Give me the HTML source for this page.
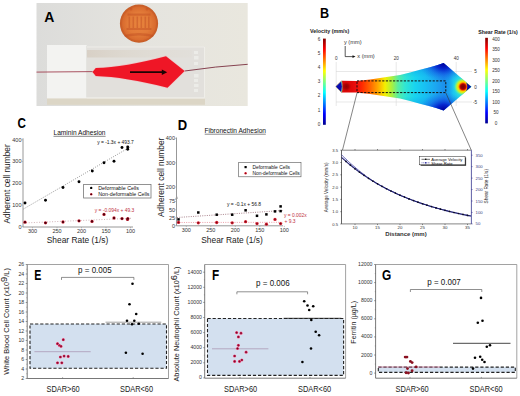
<!DOCTYPE html>
<html><head><meta charset="utf-8">
<style>
html,body{margin:0;padding:0;background:#fff;}
body{width:520px;height:396px;overflow:hidden;}
svg{display:block;font-family:"Liberation Sans",sans-serif;}
.b{font-weight:bold;}
</style></head>
<body>
<svg width="520" height="396" viewBox="0 0 520 396">

<defs>
<linearGradient id="phbg" x1="0" x2="1" y1="0" y2="0">
<stop offset="0" stop-color="#dcdcda"/><stop offset="0.5" stop-color="#e5e4df"/><stop offset="1" stop-color="#e9e7de"/>
</linearGradient>
<linearGradient id="band" x1="0" x2="1" y1="0" y2="0"><stop offset="0" stop-color="#d8d0c6" stop-opacity="1"/><stop offset="0.4" stop-color="#dcd6cc" stop-opacity="0.7"/><stop offset="1" stop-color="#e0dcd4" stop-opacity="0.3"/></linearGradient>
<radialGradient id="coin" cx="0.5" cy="0.5" r="0.5">
<stop offset="0" stop-color="#e8843e"/><stop offset="0.6" stop-color="#e27a38"/><stop offset="0.88" stop-color="#d86a2e"/><stop offset="1" stop-color="#c25a26"/>
</radialGradient>
<linearGradient id="vcb" x1="0" x2="0" y1="1" y2="0">
<stop offset="0" stop-color="#00008f"/><stop offset="0.125" stop-color="#0000ff"/><stop offset="0.375" stop-color="#00ffff"/><stop offset="0.625" stop-color="#ffff00"/><stop offset="0.875" stop-color="#ff0000"/><stop offset="1" stop-color="#800000"/>
</linearGradient>
<linearGradient id="flow" gradientUnits="userSpaceOnUse" x1="335" x2="472" y1="0" y2="0">
<stop offset="0.036" stop-color="#d80808"/><stop offset="0.124" stop-color="#e00808"/><stop offset="0.161" stop-color="#f01010"/><stop offset="0.197" stop-color="#ff2a00"/><stop offset="0.255" stop-color="#ff6400"/><stop offset="0.314" stop-color="#ffa800"/><stop offset="0.365" stop-color="#f4f000"/><stop offset="0.416" stop-color="#a8f040"/><stop offset="0.460" stop-color="#58eea0"/><stop offset="0.511" stop-color="#30e6d4"/><stop offset="0.584" stop-color="#18d4f0"/><stop offset="0.657" stop-color="#18c0f2"/><stop offset="0.730" stop-color="#1ca8f0"/><stop offset="0.796" stop-color="#1c90ec"/><stop offset="0.832" stop-color="#18a0f0"/><stop offset="0.862" stop-color="#1cc4f0"/><stop offset="0.9" stop-color="#26d6e8"/><stop offset="1" stop-color="#28d8e8"/>
</linearGradient>
<linearGradient id="flowv" gradientUnits="userSpaceOnUse" x1="0" x2="0" y1="63" y2="110.6">
<stop offset="0" stop-color="#0010c0" stop-opacity="0.5"/><stop offset="0.15" stop-color="#0030d8" stop-opacity="0.15"/><stop offset="0.3" stop-color="#0040e0" stop-opacity="0"/><stop offset="0.7" stop-color="#0040e0" stop-opacity="0"/><stop offset="0.85" stop-color="#0030d8" stop-opacity="0.15"/><stop offset="1" stop-color="#0010c0" stop-opacity="0.5"/>
</linearGradient>
<radialGradient id="vtx" cx="0.5" cy="0.5" r="0.5">
<stop offset="0" stop-color="#000098" stop-opacity="1"/><stop offset="0.3" stop-color="#0010c8" stop-opacity="0.8"/><stop offset="0.65" stop-color="#1040e0" stop-opacity="0.35"/><stop offset="1" stop-color="#1060e8" stop-opacity="0"/>
</radialGradient>
<radialGradient id="rtip" gradientUnits="userSpaceOnUse" cx="463" cy="86.7" r="11">
<stop offset="0" stop-color="#780000"/><stop offset="0.2" stop-color="#980000"/><stop offset="0.28" stop-color="#d01000"/><stop offset="0.35" stop-color="#ff7000"/><stop offset="0.44" stop-color="#f8d800"/><stop offset="0.55" stop-color="#d0f020"/><stop offset="0.68" stop-color="#70f090" stop-opacity="0.9"/><stop offset="0.82" stop-color="#30e0d0" stop-opacity="0.5"/><stop offset="1" stop-color="#20d0f0" stop-opacity="0"/>
</radialGradient>
<radialGradient id="lcore" cx="0.5" cy="0.5" r="0.5"><stop offset="0" stop-color="#900000"/><stop offset="0.5" stop-color="#a00000" stop-opacity="0.8"/><stop offset="1" stop-color="#c00000" stop-opacity="0"/></radialGradient>
<radialGradient id="ltip" gradientUnits="userSpaceOnUse" cx="336.5" cy="86.6" r="7">
<stop offset="0" stop-color="#0000a0"/><stop offset="0.45" stop-color="#0010d0"/><stop offset="0.6" stop-color="#20c0f0"/><stop offset="0.72" stop-color="#e0f040"/><stop offset="0.85" stop-color="#ff6000" stop-opacity="0.6"/><stop offset="1" stop-color="#d00000" stop-opacity="0"/>
</radialGradient>
<filter id="bl" x="-10%" y="-10%" width="120%" height="120%"><feGaussianBlur stdDeviation="0.7"/></filter>
<clipPath id="shpclip"><path d="M335.6,86.6 L341.5,80.8 L357,80.9 L370,79.5 L385,77.2 L400,74.9 L410,72.5 L420,69.8 L430,67.3 L437,65.2 L443.6,63.1 L471.5,86.8 L443.6,110.4 L437,108.3 L430,106.2 L420,103.7 L410,101.0 L400,98.6 L385,96.3 L370,94.0 L357,92.6 L341.5,92.6 Z"/></clipPath>
<radialGradient id="rdot" cx="0.5" cy="0.5" r="0.5">
<stop offset="0" stop-color="#30000a"/><stop offset="0.5" stop-color="#600010"/><stop offset="1" stop-color="#d82838"/>
</radialGradient>
<radialGradient id="rdotD" cx="0.5" cy="0.5" r="0.5">
<stop offset="0" stop-color="#600010"/><stop offset="0.35" stop-color="#a01020"/><stop offset="1" stop-color="#e82838"/>
</radialGradient>
<radialGradient id="rdotE" cx="0.5" cy="0.5" r="0.5">
<stop offset="0" stop-color="#681028"/><stop offset="0.45" stop-color="#a01840"/><stop offset="0.8" stop-color="#e03868"/><stop offset="1" stop-color="#f06890"/>
</radialGradient>
</defs>

<rect x="36.5" y="3" width="211.2" height="103" fill="url(#phbg)"/>
<rect x="47" y="97.8" width="158" height="7" fill="#dcd6c6"/>
<rect x="47" y="97.8" width="158" height="1.2" fill="#e6e2d8"/>
<rect x="87" y="46.5" width="118" height="51.5" fill="#e2e0dc"/>
<path d="M87,47 H204.5 V97.8 H87" stroke="#f2f1ec" stroke-width="0.8" fill="none"/>
<rect x="87" y="50" width="105" height="7.5" fill="url(#band)"/>
<g fill="#f4f4f0" opacity="0.6"><rect x="194" y="51" width="4" height="3"/><rect x="194" y="56" width="4.5" height="3.5"/><rect x="194" y="62" width="4" height="3"/><rect x="194" y="74" width="4.5" height="3.5"/><rect x="194" y="79" width="4" height="3"/><rect x="194" y="84" width="4.5" height="3"/><rect x="194" y="89" width="4" height="3"/></g>
<rect x="47" y="45" width="40" height="53" fill="#f3f3f1"/>
<path d="M86.5,45.5 V97.5" stroke="#e0e0dc" stroke-width="0.8"/>
<circle cx="139" cy="23.6" r="19.1" fill="url(#coin)"/>
<circle cx="139.1" cy="23.6" r="17.6" fill="none" stroke="#c85c28" stroke-width="1.2" opacity="0.55"/>
<g fill="#c04e20" opacity="0.45" filter="url(#bl)"><rect x="127.5" y="13.5" width="23" height="2.2"/><rect x="128.5" y="16.5" width="1.6" height="11.5"/><rect x="132.5" y="16.5" width="1.6" height="11.5"/><rect x="136.5" y="16.5" width="1.6" height="11.5"/><rect x="140.5" y="16.5" width="1.6" height="11.5"/><rect x="144.5" y="16.5" width="1.6" height="11.5"/><rect x="148" y="16.5" width="1.6" height="11.5"/><rect x="126.5" y="28" width="25" height="2"/><path d="M124,35 Q139,31 154,35 L153,37 Q139,34 125,37 Z"/><circle cx="131" cy="9" r="1.5"/><circle cx="147" cy="9" r="1.5"/></g>
<path d="M36.5,72.1 L93,71.6" stroke="#a04050" stroke-width="0.9" fill="none"/>
<path d="M184.6,71 Q215,66.5 247.7,64.3" stroke="#7a3040" stroke-width="0.9" fill="none"/>
<path d="M92.5,71.9 L95.8,68.1 Q125,67 166,56.2 L184.6,71 L167.5,87.8 Q125,77 95.8,76.1 Z" fill="#f0a0a4" stroke="#f4b8bc" stroke-width="1.2" opacity="0.6"/>
<path d="M92.5,71.9 L95.8,68.1 Q125,67 166,56.2 L184.6,71 L167.5,87.8 Q125,77 95.8,76.1 Z" fill="#ef1626"/>
<path d="M130,72.1 L163,72.2" stroke="#1c0404" stroke-width="1.7"/>
<path d="M167.2,72.2 L161.8,69.4 L161.8,75 Z" fill="#1c0404"/>
<text x="0" y="0" font-size="14" font-weight="bold" fill="#000" transform="translate(44.20,22.40) scale(1.0,1)">A</text>
<text x="0" y="0" font-size="14" font-weight="bold" fill="#000" transform="translate(320.00,17.90) scale(0.9,1)">B</text>
<text x="310.00" y="33.00" font-size="5.35" fill="#222" text-anchor="start" class="b">Velocity (mm/s)</text>
<text x="478.20" y="33.80" font-size="5.25" fill="#222" text-anchor="start" class="b">Shear Rate (1/s)</text>
<rect x="323" y="38.6" width="2.8" height="86.2" fill="url(#vcb)"/>
<rect x="485.2" y="37.8" width="2.7" height="85.6" fill="url(#vcb)"/>
<text x="319.00" y="40.60" font-size="4.6" fill="#333" text-anchor="middle" >6</text>
<text x="319.00" y="54.78" font-size="4.6" fill="#333" text-anchor="middle" >5</text>
<text x="319.00" y="68.96" font-size="4.6" fill="#333" text-anchor="middle" >4</text>
<text x="319.00" y="83.14" font-size="4.6" fill="#333" text-anchor="middle" >3</text>
<text x="319.00" y="97.32" font-size="4.6" fill="#333" text-anchor="middle" >2</text>
<text x="319.00" y="111.50" font-size="4.6" fill="#333" text-anchor="middle" >1</text>
<text x="319.00" y="125.68" font-size="4.6" fill="#333" text-anchor="middle" >0</text>
<text x="496.10" y="40.50" font-size="4.6" fill="#333" text-anchor="middle" >400</text>
<text x="496.10" y="51.06" font-size="4.6" fill="#333" text-anchor="middle" >350</text>
<text x="496.10" y="61.62" font-size="4.6" fill="#333" text-anchor="middle" >300</text>
<text x="496.10" y="72.18" font-size="4.6" fill="#333" text-anchor="middle" >250</text>
<text x="496.10" y="82.74" font-size="4.6" fill="#333" text-anchor="middle" >200</text>
<text x="496.10" y="93.30" font-size="4.6" fill="#333" text-anchor="middle" >150</text>
<text x="496.10" y="103.86" font-size="4.6" fill="#333" text-anchor="middle" >100</text>
<text x="496.10" y="114.42" font-size="4.6" fill="#333" text-anchor="middle" >50</text>
<text x="496.10" y="124.98" font-size="4.6" fill="#333" text-anchor="middle" >0</text>
<path d="M345.2,46 L345.2,56.6 L353,56.6" stroke="#111" stroke-width="0.7" fill="none"/>
<path d="M355.5,56.6 L352.5,55.3 L352.5,57.9 Z" fill="#111"/>
<text x="343.90" y="44.20" font-size="5.7" fill="#333" text-anchor="start" >y (mm)</text>
<text x="357.30" y="58.30" font-size="5.6" fill="#333" text-anchor="start" >x (mm)</text>
<g stroke="#d8d8d8" stroke-width="0.6"><path d="M336,71.5 H472"/><path d="M336,102 H472"/><path d="M336.2,62 V106"/><path d="M396.2,62 V106"/><path d="M456.2,62 V106"/></g>
<text x="336.20" y="60.00" font-size="4.6" fill="#333" text-anchor="middle" >0</text>
<text x="396.20" y="60.00" font-size="4.6" fill="#333" text-anchor="middle" >20</text>
<text x="456.20" y="60.00" font-size="4.6" fill="#333" text-anchor="middle" >40</text>
<text x="475.50" y="73.00" font-size="4.6" fill="#333" text-anchor="middle" >5</text>
<text x="475.50" y="88.50" font-size="4.6" fill="#333" text-anchor="middle" >0</text>
<text x="475.00" y="103.50" font-size="4.6" fill="#333" text-anchor="middle" >-5</text>
<g clip-path="url(#shpclip)">
<rect x="335" y="60" width="140" height="55" fill="url(#flow)"/>
<rect x="335" y="60" width="140" height="55" fill="url(#flowv)"/>
<ellipse cx="443.6" cy="63.5" rx="24" ry="18" fill="url(#vtx)"/>
<ellipse cx="443.6" cy="110" rx="24" ry="18" fill="url(#vtx)"/>
<circle cx="463" cy="86.7" r="11" fill="url(#rtip)"/>
<path d="M466,82.2 L471.5,86.8 L466,91.2 Q468.4,86.8 466,82.2 Z" fill="#0808a8"/>
<path d="M335.6,86.6 L341.5,80.8 Q343.2,86.6 341.5,92.6 Z" fill="#0808b0" stroke="#80e0a0" stroke-width="0.9"/>
<circle cx="346.3" cy="86.6" r="5" fill="url(#lcore)"/>
</g>
<rect x="357" y="80.9" width="88.8" height="11.7" fill="none" stroke="#111" stroke-width="1" stroke-dasharray="2.2,1.4"/>
<path d="M357.00,93.00 L342.50,150.00" stroke="#333" stroke-width="0.6" fill="none" />
<path d="M445.80,92.80 L471.20,150.00" stroke="#333" stroke-width="0.6" fill="none" />
<path d="M341.5,150.2 H471.4" stroke="#333" stroke-width="0.6"/>
<path d="M341.5,223.9 H471.4" stroke="#333" stroke-width="0.6"/>
<path d="M341.5,150.2 V223.9" stroke="#222" stroke-width="0.7"/>
<path d="M471.4,150.2 V223.9" stroke="#1a1a80" stroke-width="0.7"/>
<path d="M341.50,150.20 L340.30,150.20" stroke="#222" stroke-width="0.5" fill="none" />
<text x="338.20" y="151.70" font-size="4.2" fill="#333" text-anchor="end" >3.5</text>
<path d="M341.50,162.50 L340.30,162.50" stroke="#222" stroke-width="0.5" fill="none" />
<text x="338.20" y="164.00" font-size="4.2" fill="#333" text-anchor="end" >3.0</text>
<path d="M341.50,174.80 L340.30,174.80" stroke="#222" stroke-width="0.5" fill="none" />
<text x="338.20" y="176.30" font-size="4.2" fill="#333" text-anchor="end" >2.5</text>
<path d="M341.50,187.10 L340.30,187.10" stroke="#222" stroke-width="0.5" fill="none" />
<text x="338.20" y="188.60" font-size="4.2" fill="#333" text-anchor="end" >2.0</text>
<path d="M341.50,199.40 L340.30,199.40" stroke="#222" stroke-width="0.5" fill="none" />
<text x="338.20" y="200.90" font-size="4.2" fill="#333" text-anchor="end" >1.5</text>
<path d="M341.50,211.70 L340.30,211.70" stroke="#222" stroke-width="0.5" fill="none" />
<text x="338.20" y="213.20" font-size="4.2" fill="#333" text-anchor="end" >1.0</text>
<path d="M341.50,224.00 L340.30,224.00" stroke="#222" stroke-width="0.5" fill="none" />
<text x="338.20" y="225.50" font-size="4.2" fill="#333" text-anchor="end" >0.5</text>
<path d="M355.00,150.20 L355.00,149.00" stroke="#222" stroke-width="0.5" fill="none" />
<path d="M355.00,223.90 L355.00,225.10" stroke="#222" stroke-width="0.5" fill="none" />
<text x="355.00" y="228.90" font-size="4.4" fill="#333" text-anchor="middle" >10</text>
<path d="M377.50,150.20 L377.50,149.00" stroke="#222" stroke-width="0.5" fill="none" />
<path d="M377.50,223.90 L377.50,225.10" stroke="#222" stroke-width="0.5" fill="none" />
<text x="377.50" y="228.90" font-size="4.4" fill="#333" text-anchor="middle" >15</text>
<path d="M400.00,150.20 L400.00,149.00" stroke="#222" stroke-width="0.5" fill="none" />
<path d="M400.00,223.90 L400.00,225.10" stroke="#222" stroke-width="0.5" fill="none" />
<text x="400.00" y="228.90" font-size="4.4" fill="#333" text-anchor="middle" >20</text>
<path d="M422.50,150.20 L422.50,149.00" stroke="#222" stroke-width="0.5" fill="none" />
<path d="M422.50,223.90 L422.50,225.10" stroke="#222" stroke-width="0.5" fill="none" />
<text x="422.50" y="228.90" font-size="4.4" fill="#333" text-anchor="middle" >25</text>
<path d="M445.00,150.20 L445.00,149.00" stroke="#222" stroke-width="0.5" fill="none" />
<path d="M445.00,223.90 L445.00,225.10" stroke="#222" stroke-width="0.5" fill="none" />
<text x="445.00" y="228.90" font-size="4.4" fill="#333" text-anchor="middle" >30</text>
<path d="M467.50,150.20 L467.50,149.00" stroke="#222" stroke-width="0.5" fill="none" />
<path d="M467.50,223.90 L467.50,225.10" stroke="#222" stroke-width="0.5" fill="none" />
<text x="467.50" y="228.90" font-size="4.4" fill="#333" text-anchor="middle" >35</text>
<path d="M471.40,155.20 L472.60,155.20" stroke="#1a1a80" stroke-width="0.5" fill="none" />
<text x="475.60" y="156.70" font-size="4.3" fill="#3a3a80" text-anchor="start" >350</text>
<path d="M471.40,166.65 L472.60,166.65" stroke="#1a1a80" stroke-width="0.5" fill="none" />
<text x="475.60" y="168.15" font-size="4.3" fill="#3a3a80" text-anchor="start" >300</text>
<path d="M471.40,178.10 L472.60,178.10" stroke="#1a1a80" stroke-width="0.5" fill="none" />
<text x="475.60" y="179.60" font-size="4.3" fill="#3a3a80" text-anchor="start" >250</text>
<path d="M471.40,189.55 L472.60,189.55" stroke="#1a1a80" stroke-width="0.5" fill="none" />
<text x="475.60" y="191.05" font-size="4.3" fill="#3a3a80" text-anchor="start" >200</text>
<path d="M471.40,201.00 L472.60,201.00" stroke="#1a1a80" stroke-width="0.5" fill="none" />
<text x="475.60" y="202.50" font-size="4.3" fill="#3a3a80" text-anchor="start" >150</text>
<path d="M471.40,212.45 L472.60,212.45" stroke="#1a1a80" stroke-width="0.5" fill="none" />
<text x="475.60" y="213.95" font-size="4.3" fill="#3a3a80" text-anchor="start" >100</text>
<path d="M471.40,223.90 L472.60,223.90" stroke="#1a1a80" stroke-width="0.5" fill="none" />
<text x="475.60" y="225.40" font-size="4.3" fill="#3a3a80" text-anchor="start" >50</text>
<text x="0" y="0" font-size="4.6" fill="#222" text-anchor="middle" transform="translate(327.90,187.40) rotate(-90)" >Average Velocity (mm/s)</text>
<text x="0" y="0" font-size="4.7" fill="#222" text-anchor="middle" transform="translate(487.80,186.20) rotate(-90)" >Shear Rate (1/s)</text>
<text x="406.00" y="236.00" font-size="6" fill="#333" text-anchor="middle" class="b">Distance (mm)</text>
<path d="M341.50,154.82 L342.62,155.94 L343.75,157.04 L344.88,158.13 L346.00,159.20 L347.12,160.26 L348.25,161.30 L349.38,162.33 L350.50,163.35 L351.62,164.35 L352.75,165.34 L353.88,166.32 L355.00,167.28 L356.12,168.23 L357.25,169.17 L358.38,170.10 L359.50,171.01 L360.62,171.91 L361.75,172.80 L362.88,173.68 L364.00,174.55 L365.12,175.41 L366.25,176.25 L367.38,177.09 L368.50,177.92 L369.62,178.73 L370.75,179.53 L371.88,180.33 L373.00,181.11 L374.12,181.84 L375.25,182.51 L376.38,183.17 L377.50,183.83 L378.62,184.47 L379.75,185.11 L380.88,185.74 L382.00,186.35 L383.12,186.96 L384.25,187.56 L385.38,188.16 L386.50,188.74 L387.62,189.32 L388.75,189.89 L389.88,190.45 L391.00,191.00 L392.12,191.55 L393.25,192.08 L394.38,192.61 L395.50,193.14 L396.62,193.65 L397.75,194.16 L398.88,194.66 L400.00,195.16 L401.12,195.64 L402.25,196.13 L403.38,196.60 L404.50,197.07 L405.62,197.53 L406.75,197.99 L407.88,198.44 L409.00,198.88 L410.12,199.32 L411.25,199.75 L412.38,200.17 L413.50,200.59 L414.62,201.01 L415.75,201.41 L416.88,201.82 L418.00,202.22 L419.12,202.61 L420.25,202.99 L421.38,203.38 L422.50,203.75 L423.62,204.13 L424.75,204.49 L425.88,204.85 L427.00,205.21 L428.12,205.56 L429.25,205.91 L430.38,206.25 L431.50,206.59 L432.62,206.93 L433.75,207.26 L434.88,207.58 L436.00,207.90 L437.12,208.22 L438.25,208.53 L439.38,208.84 L440.50,209.15 L441.62,209.45 L442.75,209.74 L443.88,210.04 L445.00,210.32 L446.12,210.61 L447.25,210.89 L448.38,211.17 L449.50,211.44 L450.62,211.72 L451.75,211.98 L452.88,212.25 L454.00,212.51 L455.12,212.76 L456.25,213.02 L457.38,213.27 L458.50,213.52 L459.62,213.76 L460.75,214.00 L461.88,214.24 L463.00,214.47 L464.12,214.71 L465.25,214.94 L466.38,215.16 L467.50,215.39 L468.62,215.61 L469.75,215.82 L470.88,216.04" stroke="#5050b0" stroke-width="0.9" fill="none"/>
<path d="M341.50,157.42 L342.62,158.45 L343.75,159.46 L344.88,160.45 L346.00,161.43 L347.12,162.40 L348.25,163.35 L349.38,164.29 L350.50,165.22 L351.62,166.13 L352.75,167.02 L353.88,167.91 L355.00,168.78 L356.12,169.64 L357.25,170.49 L358.38,171.32 L359.50,172.15 L360.62,172.96 L361.75,173.76 L362.88,174.55 L364.00,175.32 L365.12,176.09 L366.25,176.84 L367.38,177.59 L368.50,178.32 L369.62,179.04 L370.75,179.76 L371.88,180.46 L373.00,181.15 L374.12,181.84 L375.25,182.51 L376.38,183.17 L377.50,183.83 L378.62,184.47 L379.75,185.11 L380.88,185.74 L382.00,186.35 L383.12,186.96 L384.25,187.56 L385.38,188.16 L386.50,188.74 L387.62,189.32 L388.75,189.89 L389.88,190.45 L391.00,191.00 L392.12,191.55 L393.25,192.08 L394.38,192.61 L395.50,193.14 L396.62,193.65 L397.75,194.16 L398.88,194.66 L400.00,195.16 L401.12,195.64 L402.25,196.13 L403.38,196.60 L404.50,197.07 L405.62,197.53 L406.75,197.99 L407.88,198.44 L409.00,198.88 L410.12,199.32 L411.25,199.75 L412.38,200.17 L413.50,200.59 L414.62,201.01 L415.75,201.41 L416.88,201.82 L418.00,202.22 L419.12,202.61 L420.25,202.99 L421.38,203.38 L422.50,203.75 L423.62,204.13 L424.75,204.49 L425.88,204.85 L427.00,205.21 L428.12,205.56 L429.25,205.91 L430.38,206.25 L431.50,206.59 L432.62,206.93 L433.75,207.26 L434.88,207.58 L436.00,207.90 L437.12,208.22 L438.25,208.53 L439.38,208.84 L440.50,209.15 L441.62,209.45 L442.75,209.74 L443.88,210.04 L445.00,210.32 L446.12,210.61 L447.25,210.89 L448.38,211.17 L449.50,211.44 L450.62,211.72 L451.75,211.98 L452.88,212.25 L454.00,212.51 L455.12,212.76 L456.25,213.02 L457.38,213.27 L458.50,213.52 L459.62,213.76 L460.75,214.00 L461.88,214.24 L463.00,214.47 L464.12,214.71 L465.25,214.94 L466.38,215.16 L467.50,215.39 L468.62,215.61 L469.75,215.82 L470.88,216.04" stroke="#202070" stroke-width="1.1" fill="none"/>
<circle cx="346.00" cy="161.43" r="0.85" fill="#0a0a20"/>
<circle cx="350.50" cy="165.22" r="0.85" fill="#0a0a20"/>
<circle cx="355.00" cy="168.78" r="0.85" fill="#0a0a20"/>
<circle cx="359.50" cy="172.15" r="0.85" fill="#0a0a20"/>
<circle cx="364.00" cy="175.32" r="0.85" fill="#0a0a20"/>
<circle cx="368.50" cy="178.32" r="0.85" fill="#0a0a20"/>
<circle cx="373.00" cy="181.15" r="0.85" fill="#0a0a20"/>
<circle cx="377.50" cy="183.83" r="0.85" fill="#0a0a20"/>
<circle cx="382.00" cy="186.35" r="0.85" fill="#0a0a20"/>
<circle cx="386.50" cy="188.74" r="0.85" fill="#0a0a20"/>
<circle cx="391.00" cy="191.00" r="0.85" fill="#0a0a20"/>
<circle cx="395.50" cy="193.14" r="0.85" fill="#0a0a20"/>
<circle cx="400.00" cy="195.16" r="0.85" fill="#0a0a20"/>
<circle cx="404.50" cy="197.07" r="0.85" fill="#0a0a20"/>
<circle cx="409.00" cy="198.88" r="0.85" fill="#0a0a20"/>
<circle cx="413.50" cy="200.59" r="0.85" fill="#0a0a20"/>
<circle cx="418.00" cy="202.22" r="0.85" fill="#0a0a20"/>
<circle cx="422.50" cy="203.75" r="0.85" fill="#0a0a20"/>
<circle cx="427.00" cy="205.21" r="0.85" fill="#0a0a20"/>
<circle cx="431.50" cy="206.59" r="0.85" fill="#0a0a20"/>
<circle cx="436.00" cy="207.90" r="0.85" fill="#0a0a20"/>
<circle cx="440.50" cy="209.15" r="0.85" fill="#0a0a20"/>
<circle cx="445.00" cy="210.32" r="0.85" fill="#0a0a20"/>
<circle cx="449.50" cy="211.44" r="0.85" fill="#0a0a20"/>
<circle cx="454.00" cy="212.51" r="0.85" fill="#0a0a20"/>
<circle cx="458.50" cy="213.52" r="0.85" fill="#0a0a20"/>
<circle cx="463.00" cy="214.47" r="0.85" fill="#0a0a20"/>
<circle cx="467.50" cy="215.39" r="0.85" fill="#0a0a20"/>
<rect x="420.6" y="157.4" width="45.5" height="8.4" fill="#333"/>
<rect x="419.6" y="156.4" width="45.5" height="8.4" fill="#fff" stroke="#222" stroke-width="0.5"/>
<path d="M421.50,159.30 L430.00,159.30" stroke="#111" stroke-width="0.6" fill="none" />
<rect x="425" y="158.6" width="1.4" height="1.4" fill="#111"/>
<path d="M421.50,162.80 L430.00,162.80" stroke="#3030a0" stroke-width="0.6" fill="none" stroke-dasharray="1,0.6"/>
<rect x="425" y="162.1" width="1.4" height="1.4" fill="#3030a0"/>
<text x="431.30" y="160.90" font-size="4.2" fill="#111" text-anchor="start" >Average Velocity</text>
<text x="431.30" y="164.60" font-size="4.2" fill="#111" text-anchor="start" >Shear Rate</text>
<text x="0" y="0" font-size="14" font-weight="bold" fill="#000" transform="translate(17.40,128.40) scale(0.83,1)">C</text>
<path d="M23,138.3 V227 H133" stroke="#8c8c8c" stroke-width="0.9" fill="none"/>
<path d="M23.00,226.80 L21.70,226.80" stroke="#999" stroke-width="0.6" fill="none" />
<text x="21.50" y="228.70" font-size="5.5" fill="#333" text-anchor="end" >0</text>
<path d="M23.00,205.05 L21.70,205.05" stroke="#999" stroke-width="0.6" fill="none" />
<text x="21.50" y="206.95" font-size="5.5" fill="#333" text-anchor="end" >100</text>
<path d="M23.00,183.30 L21.70,183.30" stroke="#999" stroke-width="0.6" fill="none" />
<text x="21.50" y="185.20" font-size="5.5" fill="#333" text-anchor="end" >200</text>
<path d="M23.00,161.55 L21.70,161.55" stroke="#999" stroke-width="0.6" fill="none" />
<text x="21.50" y="163.45" font-size="5.5" fill="#333" text-anchor="end" >300</text>
<path d="M23.00,139.80 L21.70,139.80" stroke="#999" stroke-width="0.6" fill="none" />
<text x="21.50" y="141.70" font-size="5.5" fill="#333" text-anchor="end" >400</text>
<path d="M32.50,227.00 L32.50,228.30" stroke="#999" stroke-width="0.6" fill="none" />
<text x="32.50" y="232.80" font-size="5.5" fill="#333" text-anchor="middle" >300</text>
<path d="M57.00,227.00 L57.00,228.30" stroke="#999" stroke-width="0.6" fill="none" />
<text x="57.00" y="232.80" font-size="5.5" fill="#333" text-anchor="middle" >250</text>
<path d="M81.50,227.00 L81.50,228.30" stroke="#999" stroke-width="0.6" fill="none" />
<text x="81.50" y="232.80" font-size="5.5" fill="#333" text-anchor="middle" >200</text>
<path d="M106.00,227.00 L106.00,228.30" stroke="#999" stroke-width="0.6" fill="none" />
<text x="106.00" y="232.80" font-size="5.5" fill="#333" text-anchor="middle" >150</text>
<path d="M130.50,227.00 L130.50,228.30" stroke="#999" stroke-width="0.6" fill="none" />
<text x="130.50" y="232.80" font-size="5.5" fill="#333" text-anchor="middle" >100</text>
<text x="0" y="0" font-size="8.35" fill="#222" text-anchor="middle" transform="translate(10.20,183.90) rotate(-90)" >Adherent cell number</text>
<text x="77.50" y="243.00" font-size="8.4" fill="#222" text-anchor="middle" >Shear Rate (1/s)</text>
<text x="79.50" y="135.00" font-size="6.6" fill="#111" text-anchor="middle" >Laminin Adhesion</text>
<path d="M53.50,136.30 L105.60,136.30" stroke="#111" stroke-width="0.5" fill="none" />
<path d="M23.50,209.00 L131.00,146.50" stroke="#555" stroke-width="0.6" fill="none" stroke-dasharray="1,1.3"/>
<path d="M23.50,223.00 L131.00,218.30" stroke="#b08088" stroke-width="0.6" fill="none" stroke-dasharray="1,1.6"/>
<circle cx="25" cy="203" r="1.45" fill="#000"/>
<circle cx="45.5" cy="200.3" r="1.45" fill="#000"/>
<circle cx="63" cy="187.5" r="1.45" fill="#000"/>
<circle cx="79" cy="181.7" r="1.45" fill="#000"/>
<circle cx="92.3" cy="171" r="1.45" fill="#000"/>
<circle cx="104" cy="162.7" r="1.45" fill="#000"/>
<circle cx="114" cy="161.2" r="1.45" fill="#000"/>
<circle cx="122" cy="147.5" r="1.45" fill="#000"/>
<circle cx="127.7" cy="147" r="1.45" fill="#000"/>
<circle cx="127.7" cy="149.2" r="1.45" fill="#000"/>
<circle cx="25" cy="222.2" r="1.65" fill="url(#rdot)"/>
<circle cx="45.5" cy="222.8" r="1.65" fill="url(#rdot)"/>
<circle cx="63" cy="222" r="1.65" fill="url(#rdot)"/>
<circle cx="79" cy="220.8" r="1.65" fill="url(#rdot)"/>
<circle cx="92" cy="221.4" r="1.65" fill="url(#rdot)"/>
<circle cx="104" cy="214.4" r="1.65" fill="url(#rdot)"/>
<circle cx="114" cy="218" r="1.65" fill="url(#rdot)"/>
<circle cx="122" cy="218.6" r="1.65" fill="url(#rdot)"/>
<circle cx="127.5" cy="219.4" r="1.65" fill="url(#rdot)"/>
<circle cx="127.8" cy="218.6" r="1.65" fill="url(#rdot)"/>
<text x="115.50" y="144.30" font-size="4.9" fill="#111" text-anchor="middle" >y = -1.3x + 493.7</text>
<text x="114.50" y="211.80" font-size="4.9" fill="#c03040" text-anchor="middle" >y = -0.094x + 49.3</text>
<rect x="83.6" y="184.4" width="67.4" height="13.6" fill="#fff" stroke="#777" stroke-width="0.8"/>
<circle cx="91.2" cy="187.9" r="1.2" fill="#000"/>
<circle cx="91.2" cy="194.3" r="1.2" fill="url(#rdot)"/>
<text x="98.30" y="189.90" font-size="5.3" fill="#111" text-anchor="start" >Deformable Cells</text>
<text x="98.30" y="196.30" font-size="5.3" fill="#111" text-anchor="start" >Non-deformable Cells</text>
<text x="0" y="0" font-size="14" font-weight="bold" fill="#000" transform="translate(177.70,129.60) scale(0.93,1)">D</text>
<path d="M176.5,137.5 V225.8 H283" stroke="#8c8c8c" stroke-width="0.9" fill="none"/>
<path d="M176.50,225.70 L175.20,225.70" stroke="#999" stroke-width="0.6" fill="none" />
<text x="175.00" y="227.60" font-size="5.5" fill="#333" text-anchor="end" >0</text>
<path d="M176.50,217.80 L175.20,217.80" stroke="#999" stroke-width="0.6" fill="none" />
<text x="175.00" y="219.70" font-size="5.5" fill="#333" text-anchor="end" >25</text>
<path d="M176.50,209.80 L175.20,209.80" stroke="#999" stroke-width="0.6" fill="none" />
<text x="175.00" y="211.70" font-size="5.5" fill="#333" text-anchor="end" >50</text>
<path d="M176.50,201.50 L175.20,201.50" stroke="#999" stroke-width="0.6" fill="none" />
<text x="175.00" y="203.40" font-size="5.5" fill="#333" text-anchor="end" >75</text>
<path d="M176.50,187.00 L175.20,187.00" stroke="#999" stroke-width="0.6" fill="none" />
<text x="175.00" y="188.90" font-size="5.5" fill="#333" text-anchor="end" >200</text>
<path d="M176.50,162.80 L175.20,162.80" stroke="#999" stroke-width="0.6" fill="none" />
<text x="175.00" y="164.70" font-size="5.5" fill="#333" text-anchor="end" >300</text>
<path d="M176.50,138.40 L175.20,138.40" stroke="#999" stroke-width="0.6" fill="none" />
<text x="175.00" y="140.30" font-size="5.5" fill="#333" text-anchor="end" >400</text>
<path d="M175.00,199.80 L178.00,198.20" stroke="#999" stroke-width="0.6" fill="none" />
<path d="M175.00,198.60 L178.00,197.00" stroke="#999" stroke-width="0.6" fill="none" />
<path d="M186.30,225.80 L186.30,227.10" stroke="#999" stroke-width="0.6" fill="none" />
<text x="186.30" y="231.80" font-size="5.5" fill="#333" text-anchor="middle" >300</text>
<path d="M210.80,225.80 L210.80,227.10" stroke="#999" stroke-width="0.6" fill="none" />
<text x="210.80" y="231.80" font-size="5.5" fill="#333" text-anchor="middle" >250</text>
<path d="M235.30,225.80 L235.30,227.10" stroke="#999" stroke-width="0.6" fill="none" />
<text x="235.30" y="231.80" font-size="5.5" fill="#333" text-anchor="middle" >200</text>
<path d="M259.80,225.80 L259.80,227.10" stroke="#999" stroke-width="0.6" fill="none" />
<text x="259.80" y="231.80" font-size="5.5" fill="#333" text-anchor="middle" >150</text>
<path d="M284.30,225.80 L284.30,227.10" stroke="#999" stroke-width="0.6" fill="none" />
<text x="284.30" y="231.80" font-size="5.5" fill="#333" text-anchor="middle" >100</text>
<text x="0" y="0" font-size="8.35" fill="#222" text-anchor="middle" transform="translate(163.60,177.30) rotate(-90)" >Adherent cell number</text>
<text x="232.00" y="243.00" font-size="8.4" fill="#222" text-anchor="middle" >Shear Rate (1/s)</text>
<text x="235.20" y="132.70" font-size="6.6" fill="#111" text-anchor="middle" >Fibronectin Adhesion</text>
<path d="M204.70,134.20 L265.80,134.20" stroke="#111" stroke-width="0.5" fill="none" />
<path d="M177.00,217.50 L283.00,210.50" stroke="#703040" stroke-width="0.6" fill="none" stroke-dasharray="1,1.3"/>
<path d="M177.00,222.50 L283.00,222.30" stroke="#e06070" stroke-width="0.6" fill="none" stroke-dasharray="1,1.3"/>
<rect x="177.25" y="218.15" width="2.5" height="2.5" fill="#000"/>
<rect x="197.05" y="211.25" width="2.5" height="2.5" fill="#000"/>
<rect x="215.45" y="213.45" width="2.5" height="2.5" fill="#000"/>
<rect x="230.95" y="213.45" width="2.5" height="2.5" fill="#000"/>
<rect x="244.35" y="209.05" width="2.5" height="2.5" fill="#000"/>
<rect x="255.75" y="214.55" width="2.5" height="2.5" fill="#000"/>
<rect x="265.15" y="213.15" width="2.5" height="2.5" fill="#000"/>
<rect x="273.75" y="210.15" width="2.5" height="2.5" fill="#000"/>
<rect x="279.35" y="205.15" width="2.5" height="2.5" fill="#000"/>
<rect x="279.35" y="209.85" width="2.5" height="2.5" fill="#000"/>
<circle cx="178.5" cy="222.4" r="1.65" fill="url(#rdotD)"/>
<circle cx="198.3" cy="222.8" r="1.65" fill="url(#rdotD)"/>
<circle cx="216.7" cy="222.5" r="1.65" fill="url(#rdotD)"/>
<circle cx="232.2" cy="222.8" r="1.65" fill="url(#rdotD)"/>
<circle cx="245.6" cy="221.7" r="1.65" fill="url(#rdotD)"/>
<circle cx="257" cy="223.6" r="1.65" fill="url(#rdotD)"/>
<circle cx="266.4" cy="224.2" r="1.65" fill="url(#rdotD)"/>
<circle cx="275" cy="219.4" r="1.65" fill="url(#rdotD)"/>
<circle cx="280.6" cy="223.6" r="1.65" fill="url(#rdotD)"/>
<text x="244.00" y="205.50" font-size="4.9" fill="#111" text-anchor="middle" >y = -0.1x + 56.8</text>
<text x="284.00" y="217.00" font-size="4.9" fill="#c03040" text-anchor="start" >y = 0.002x</text>
<text x="284.50" y="222.50" font-size="4.9" fill="#c03040" text-anchor="start" >+ 9.3</text>
<rect x="238.7" y="162.4" width="62.3" height="14.4" fill="#fff" stroke="#555" stroke-width="0.6"/>
<rect x="244.5" y="166" width="2.2" height="2.2" fill="#000"/>
<circle cx="245.6" cy="173.2" r="1.2" fill="url(#rdotD)"/>
<text x="252.50" y="169.00" font-size="4.9" fill="#111" text-anchor="start" >Deformable Cells</text>
<text x="252.50" y="175.00" font-size="4.9" fill="#111" text-anchor="start" >Non-deformable Cells</text>
<path d="M27.2,264.5 H168.5 V378.5" fill="none" stroke="#8a8a8a" stroke-width="0.8"/>
<path d="M27.2,264.5 V378.5 H168.5" fill="none" stroke="#555" stroke-width="0.8"/>
<rect x="30" y="324" width="136.5" height="44.30000000000001" fill="#d3e0ef" stroke="#222" stroke-width="1.1" stroke-dasharray="3.2,1.9"/>
<path d="M27.20,269.25 L26.40,269.25" stroke="#666" stroke-width="0.5" fill="none" />
<path d="M27.20,278.75 L26.40,278.75" stroke="#666" stroke-width="0.5" fill="none" />
<path d="M27.20,288.25 L26.40,288.25" stroke="#666" stroke-width="0.5" fill="none" />
<path d="M27.20,297.75 L26.40,297.75" stroke="#666" stroke-width="0.5" fill="none" />
<path d="M27.20,307.25 L26.40,307.25" stroke="#666" stroke-width="0.5" fill="none" />
<path d="M27.20,316.75 L26.40,316.75" stroke="#666" stroke-width="0.5" fill="none" />
<path d="M27.20,326.25 L26.40,326.25" stroke="#666" stroke-width="0.5" fill="none" />
<path d="M27.20,335.75 L26.40,335.75" stroke="#666" stroke-width="0.5" fill="none" />
<path d="M27.20,345.25 L26.40,345.25" stroke="#666" stroke-width="0.5" fill="none" />
<path d="M27.20,354.75 L26.40,354.75" stroke="#666" stroke-width="0.5" fill="none" />
<path d="M27.20,364.25 L26.40,364.25" stroke="#666" stroke-width="0.5" fill="none" />
<path d="M27.20,373.75 L26.40,373.75" stroke="#666" stroke-width="0.5" fill="none" />
<path d="M27.20,264.50 L25.70,264.50" stroke="#555" stroke-width="0.6" fill="none" />
<text x="24.20" y="266.00" font-size="5.2" fill="#333" text-anchor="end" >26</text>
<path d="M27.20,274.00 L25.70,274.00" stroke="#555" stroke-width="0.6" fill="none" />
<text x="24.20" y="275.50" font-size="5.2" fill="#333" text-anchor="end" >24</text>
<path d="M27.20,283.50 L25.70,283.50" stroke="#555" stroke-width="0.6" fill="none" />
<text x="24.20" y="285.00" font-size="5.2" fill="#333" text-anchor="end" >22</text>
<path d="M27.20,293.00 L25.70,293.00" stroke="#555" stroke-width="0.6" fill="none" />
<text x="24.20" y="294.50" font-size="5.2" fill="#333" text-anchor="end" >20</text>
<path d="M27.20,302.50 L25.70,302.50" stroke="#555" stroke-width="0.6" fill="none" />
<text x="24.20" y="304.00" font-size="5.2" fill="#333" text-anchor="end" >18</text>
<path d="M27.20,312.00 L25.70,312.00" stroke="#555" stroke-width="0.6" fill="none" />
<text x="24.20" y="313.50" font-size="5.2" fill="#333" text-anchor="end" >16</text>
<path d="M27.20,321.50 L25.70,321.50" stroke="#555" stroke-width="0.6" fill="none" />
<text x="24.20" y="323.00" font-size="5.2" fill="#333" text-anchor="end" >14</text>
<path d="M27.20,331.00 L25.70,331.00" stroke="#555" stroke-width="0.6" fill="none" />
<text x="24.20" y="332.50" font-size="5.2" fill="#333" text-anchor="end" >12</text>
<path d="M27.20,340.50 L25.70,340.50" stroke="#555" stroke-width="0.6" fill="none" />
<text x="24.20" y="342.00" font-size="5.2" fill="#333" text-anchor="end" >10</text>
<path d="M27.20,350.00 L25.70,350.00" stroke="#555" stroke-width="0.6" fill="none" />
<text x="24.20" y="351.50" font-size="5.2" fill="#333" text-anchor="end" >8</text>
<path d="M27.20,359.50 L25.70,359.50" stroke="#555" stroke-width="0.6" fill="none" />
<text x="24.20" y="361.00" font-size="5.2" fill="#333" text-anchor="end" >6</text>
<path d="M27.20,369.00 L25.70,369.00" stroke="#555" stroke-width="0.6" fill="none" />
<text x="24.20" y="370.50" font-size="5.2" fill="#333" text-anchor="end" >4</text>
<path d="M27.20,378.50 L25.70,378.50" stroke="#555" stroke-width="0.6" fill="none" />
<text x="24.20" y="380.00" font-size="5.2" fill="#333" text-anchor="end" >2</text>
<path d="M62.60,378.50 L62.60,377.20" stroke="#666" stroke-width="0.6" fill="none" />
<text x="0" y="0" font-size="8.6" fill="#1a1a1a" text-anchor="middle" transform="translate(63.10,392.30) scale(0.86,1)">SDAR&gt;60</text>
<path d="M133.20,378.50 L133.20,377.20" stroke="#666" stroke-width="0.6" fill="none" />
<text x="0" y="0" font-size="8.6" fill="#1a1a1a" text-anchor="middle" transform="translate(136.50,392.30) scale(0.86,1)">SDAR&lt;60</text>
<text x="0" y="0" font-size="14" font-weight="bold" fill="#000" transform="translate(34.20,279.70) scale(0.76,1)">E</text>
<path d="M61.5,279.9 V277.4 H133.9 V279.9" stroke="#444" stroke-width="0.6" fill="none"/>
<text x="0" y="0" font-size="9.2" fill="#111" text-anchor="middle" transform="translate(94.90,272.70) scale(0.87,1)">p = 0.005</text>
<path d="M34.40,351.70 L90.70,351.70" stroke="#b0a0bc" stroke-width="0.9" fill="none" />
<path d="M105.50,322.20 L161.30,322.20" stroke="#999" stroke-width="0.9" fill="none" />
<circle cx="63.3" cy="339.7" r="1.6" fill="url(#rdotE)"/>
<circle cx="57.5" cy="343.7" r="1.6" fill="url(#rdotE)"/>
<circle cx="59.5" cy="345.5" r="1.6" fill="url(#rdotE)"/>
<circle cx="61" cy="346.3" r="1.6" fill="url(#rdotE)"/>
<circle cx="60.4" cy="357" r="1.6" fill="url(#rdotE)"/>
<circle cx="64.1" cy="356.1" r="1.6" fill="url(#rdotE)"/>
<circle cx="68.2" cy="356.4" r="1.6" fill="url(#rdotE)"/>
<circle cx="57.5" cy="362.8" r="1.6" fill="url(#rdotE)"/>
<circle cx="61.8" cy="362.8" r="1.6" fill="url(#rdotE)"/>
<circle cx="132.5" cy="283.8" r="1.3" fill="#000"/>
<circle cx="129.5" cy="304.3" r="1.3" fill="#000"/>
<circle cx="136.2" cy="314" r="1.3" fill="#000"/>
<circle cx="127" cy="320.8" r="1.3" fill="#000"/>
<circle cx="134.3" cy="320.8" r="1.3" fill="#000"/>
<circle cx="132" cy="324.2" r="1.3" fill="#000"/>
<circle cx="138.8" cy="323.8" r="1.3" fill="#000"/>
<circle cx="125.9" cy="352.7" r="1.3" fill="#000"/>
<circle cx="142.6" cy="353.8" r="1.3" fill="#000"/>
<text x="0" y="0" font-size="7.4" fill="#222" text-anchor="middle" transform="translate(9.10,321.40) rotate(-90)" >White Blood Cell Count (x10<tspan font-size="9.4" dy="-2.6">9</tspan><tspan dy="2.6">/L)</tspan></text>
<path d="M204.7,264.5 H345.6 V378.2" fill="none" stroke="#8a8a8a" stroke-width="0.8"/>
<path d="M204.7,264.5 V378.2 H345.6" fill="none" stroke="#555" stroke-width="0.8"/>
<rect x="207.5" y="318.5" width="136.10000000000002" height="56.89999999999998" fill="#d3e0ef" stroke="#222" stroke-width="1.1" stroke-dasharray="3.2,1.9"/>
<path d="M204.70,279.75 L203.90,279.75" stroke="#666" stroke-width="0.5" fill="none" />
<path d="M204.70,294.85 L203.90,294.85" stroke="#666" stroke-width="0.5" fill="none" />
<path d="M204.70,309.95 L203.90,309.95" stroke="#666" stroke-width="0.5" fill="none" />
<path d="M204.70,325.05 L203.90,325.05" stroke="#666" stroke-width="0.5" fill="none" />
<path d="M204.70,340.15 L203.90,340.15" stroke="#666" stroke-width="0.5" fill="none" />
<path d="M204.70,355.25 L203.90,355.25" stroke="#666" stroke-width="0.5" fill="none" />
<path d="M204.70,370.35 L203.90,370.35" stroke="#666" stroke-width="0.5" fill="none" />
<path d="M204.70,272.20 L203.20,272.20" stroke="#555" stroke-width="0.6" fill="none" />
<text x="202.00" y="273.70" font-size="5.2" fill="#333" text-anchor="end" >14000</text>
<path d="M204.70,287.30 L203.20,287.30" stroke="#555" stroke-width="0.6" fill="none" />
<text x="202.00" y="288.80" font-size="5.2" fill="#333" text-anchor="end" >12000</text>
<path d="M204.70,302.40 L203.20,302.40" stroke="#555" stroke-width="0.6" fill="none" />
<text x="202.00" y="303.90" font-size="5.2" fill="#333" text-anchor="end" >10000</text>
<path d="M204.70,317.50 L203.20,317.50" stroke="#555" stroke-width="0.6" fill="none" />
<text x="202.00" y="319.00" font-size="5.2" fill="#333" text-anchor="end" >8000</text>
<path d="M204.70,332.60 L203.20,332.60" stroke="#555" stroke-width="0.6" fill="none" />
<text x="202.00" y="334.10" font-size="5.2" fill="#333" text-anchor="end" >6000</text>
<path d="M204.70,347.70 L203.20,347.70" stroke="#555" stroke-width="0.6" fill="none" />
<text x="202.00" y="349.20" font-size="5.2" fill="#333" text-anchor="end" >4000</text>
<path d="M204.70,362.80 L203.20,362.80" stroke="#555" stroke-width="0.6" fill="none" />
<text x="202.00" y="364.30" font-size="5.2" fill="#333" text-anchor="end" >2000</text>
<path d="M204.70,377.90 L203.20,377.90" stroke="#555" stroke-width="0.6" fill="none" />
<text x="202.00" y="379.40" font-size="5.2" fill="#333" text-anchor="end" >0</text>
<path d="M240.00,378.20 L240.00,376.90" stroke="#666" stroke-width="0.6" fill="none" />
<text x="0" y="0" font-size="8.6" fill="#1a1a1a" text-anchor="middle" transform="translate(240.60,392.30) scale(0.86,1)">SDAR&gt;60</text>
<path d="M310.00,378.20 L310.00,376.90" stroke="#666" stroke-width="0.6" fill="none" />
<text x="0" y="0" font-size="8.6" fill="#1a1a1a" text-anchor="middle" transform="translate(314.60,392.30) scale(0.86,1)">SDAR&lt;60</text>
<text x="0" y="0" font-size="14" font-weight="bold" fill="#000" transform="translate(212.00,279.70) scale(0.84,1)">F</text>
<path d="M236.9,294.3 V291.8 H307.6 V294.3" stroke="#444" stroke-width="0.6" fill="none"/>
<text x="0" y="0" font-size="9.2" fill="#111" text-anchor="middle" transform="translate(272.90,286.30) scale(0.87,1)">p = 0.006</text>
<path d="M212.00,348.80 L268.40,348.80" stroke="#b0a0bc" stroke-width="0.9" fill="none" />
<path d="M283.60,318.30 L341.30,318.30" stroke="#222" stroke-width="0.9" fill="none" />
<circle cx="236.6" cy="332.6" r="1.6" fill="url(#rdotE)"/>
<circle cx="241" cy="333.2" r="1.6" fill="url(#rdotE)"/>
<circle cx="238.4" cy="336.9" r="1.6" fill="url(#rdotE)"/>
<circle cx="238.4" cy="345.3" r="1.6" fill="url(#rdotE)"/>
<circle cx="237.5" cy="348.5" r="1.6" fill="url(#rdotE)"/>
<circle cx="246.1" cy="352.2" r="1.6" fill="url(#rdotE)"/>
<circle cx="234.6" cy="356" r="1.6" fill="url(#rdotE)"/>
<circle cx="234.6" cy="361.4" r="1.6" fill="url(#rdotE)"/>
<circle cx="239.5" cy="361.4" r="1.6" fill="url(#rdotE)"/>
<circle cx="241.8" cy="360" r="1.6" fill="url(#rdotE)"/>
<circle cx="304.2" cy="301.3" r="1.3" fill="#000"/>
<circle cx="307.5" cy="305.5" r="1.3" fill="#000"/>
<circle cx="313.2" cy="306.3" r="1.3" fill="#000"/>
<circle cx="309.2" cy="310" r="1.3" fill="#000"/>
<circle cx="311.3" cy="320" r="1.3" fill="#000"/>
<circle cx="315.7" cy="331.7" r="1.3" fill="#000"/>
<circle cx="319.1" cy="335.2" r="1.3" fill="#000"/>
<circle cx="311" cy="348.5" r="1.3" fill="#000"/>
<circle cx="302.4" cy="362" r="1.3" fill="#000"/>
<text x="0" y="0" font-size="7.3" fill="#222" text-anchor="middle" transform="translate(179.30,324.00) rotate(-90)" >Absolute Neutrophil Count (x10<tspan font-size="9.2" dy="-2.6">6</tspan><tspan dy="2.6">/L)</tspan></text>
<path d="M375.6,264.5 H516.8 V378.2" fill="none" stroke="#8a8a8a" stroke-width="0.8"/>
<path d="M375.6,264.5 V378.2 H516.8" fill="none" stroke="#555" stroke-width="0.8"/>
<rect x="378.3" y="367.1" width="136.99999999999994" height="5.2999999999999545" fill="#d3e0ef" stroke="#222" stroke-width="1.1" stroke-dasharray="3.2,1.9"/>
<path d="M375.60,273.55 L374.80,273.55" stroke="#666" stroke-width="0.5" fill="none" />
<path d="M375.60,291.65 L374.80,291.65" stroke="#666" stroke-width="0.5" fill="none" />
<path d="M375.60,309.75 L374.80,309.75" stroke="#666" stroke-width="0.5" fill="none" />
<path d="M375.60,327.85 L374.80,327.85" stroke="#666" stroke-width="0.5" fill="none" />
<path d="M375.60,345.95 L374.80,345.95" stroke="#666" stroke-width="0.5" fill="none" />
<path d="M375.60,364.05 L374.80,364.05" stroke="#666" stroke-width="0.5" fill="none" />
<path d="M375.60,264.50 L374.10,264.50" stroke="#555" stroke-width="0.6" fill="none" />
<text x="372.50" y="266.00" font-size="5.2" fill="#333" text-anchor="end" >12000</text>
<path d="M375.60,282.60 L374.10,282.60" stroke="#555" stroke-width="0.6" fill="none" />
<text x="372.50" y="284.10" font-size="5.2" fill="#333" text-anchor="end" >10000</text>
<path d="M375.60,300.70 L374.10,300.70" stroke="#555" stroke-width="0.6" fill="none" />
<text x="372.50" y="302.20" font-size="5.2" fill="#333" text-anchor="end" >8000</text>
<path d="M375.60,318.80 L374.10,318.80" stroke="#555" stroke-width="0.6" fill="none" />
<text x="372.50" y="320.30" font-size="5.2" fill="#333" text-anchor="end" >6000</text>
<path d="M375.60,336.90 L374.10,336.90" stroke="#555" stroke-width="0.6" fill="none" />
<text x="372.50" y="338.40" font-size="5.2" fill="#333" text-anchor="end" >4000</text>
<path d="M375.60,355.00 L374.10,355.00" stroke="#555" stroke-width="0.6" fill="none" />
<text x="372.50" y="356.50" font-size="5.2" fill="#333" text-anchor="end" >2000</text>
<path d="M375.60,373.10 L374.10,373.10" stroke="#555" stroke-width="0.6" fill="none" />
<text x="372.50" y="374.60" font-size="5.2" fill="#333" text-anchor="end" >0</text>
<path d="M410.00,378.20 L410.00,376.90" stroke="#666" stroke-width="0.6" fill="none" />
<text x="0" y="0" font-size="8.6" fill="#1a1a1a" text-anchor="middle" transform="translate(412.10,392.30) scale(0.86,1)">SDAR&gt;60</text>
<path d="M481.30,378.20 L481.30,376.90" stroke="#666" stroke-width="0.6" fill="none" />
<text x="0" y="0" font-size="8.6" fill="#1a1a1a" text-anchor="middle" transform="translate(486.10,392.30) scale(0.86,1)">SDAR&lt;60</text>
<text x="0" y="0" font-size="14" font-weight="bold" fill="#000" transform="translate(382.00,279.70) scale(0.85,1)">G</text>
<path d="M410.4,292.0 V289.5 H481.8 V292.0" stroke="#444" stroke-width="0.6" fill="none"/>
<text x="0" y="0" font-size="9.2" fill="#111" text-anchor="middle" transform="translate(444.00,284.90) scale(0.87,1)">p = 0.007</text>
<path d="M378.00,367.00 L440.00,367.00" stroke="#c47a98" stroke-width="0.9" fill="none" />
<path d="M453.00,343.30 L510.50,343.30" stroke="#333" stroke-width="0.9" fill="none" />
<circle cx="405.2" cy="357.1" r="1.45" fill="#8a1020"/>
<circle cx="406.9" cy="357.1" r="1.45" fill="#8a1020"/>
<circle cx="410.4" cy="361.4" r="1.45" fill="#8a1020"/>
<circle cx="412.1" cy="362.6" r="1.45" fill="#8a1020"/>
<circle cx="416.1" cy="366.9" r="1.45" fill="#8a1020"/>
<circle cx="407.5" cy="368.6" r="1.45" fill="#8a1020"/>
<circle cx="412.1" cy="370.7" r="1.45" fill="#8a1020"/>
<circle cx="406.1" cy="372.7" r="1.45" fill="#8a1020"/>
<circle cx="408.4" cy="373" r="1.45" fill="#8a1020"/>
<circle cx="481" cy="297.9" r="1.3" fill="#000"/>
<circle cx="477.8" cy="322.7" r="1.3" fill="#000"/>
<circle cx="482.5" cy="320.7" r="1.3" fill="#000"/>
<circle cx="486.8" cy="346.7" r="1.3" fill="#000"/>
<circle cx="490" cy="345.3" r="1.3" fill="#000"/>
<circle cx="475" cy="357.7" r="1.3" fill="#000"/>
<circle cx="480.2" cy="356.8" r="1.3" fill="#000"/>
<circle cx="482.2" cy="359.7" r="1.3" fill="#000"/>
<circle cx="484.5" cy="362" r="1.3" fill="#000"/>
<circle cx="473" cy="368.6" r="1.3" fill="#000"/>
<text x="0" y="0" font-size="7.1" fill="#222" text-anchor="middle" transform="translate(355.90,322.30) rotate(-90)" >Ferritin (µg/L)</text>
</svg>
</body></html>
